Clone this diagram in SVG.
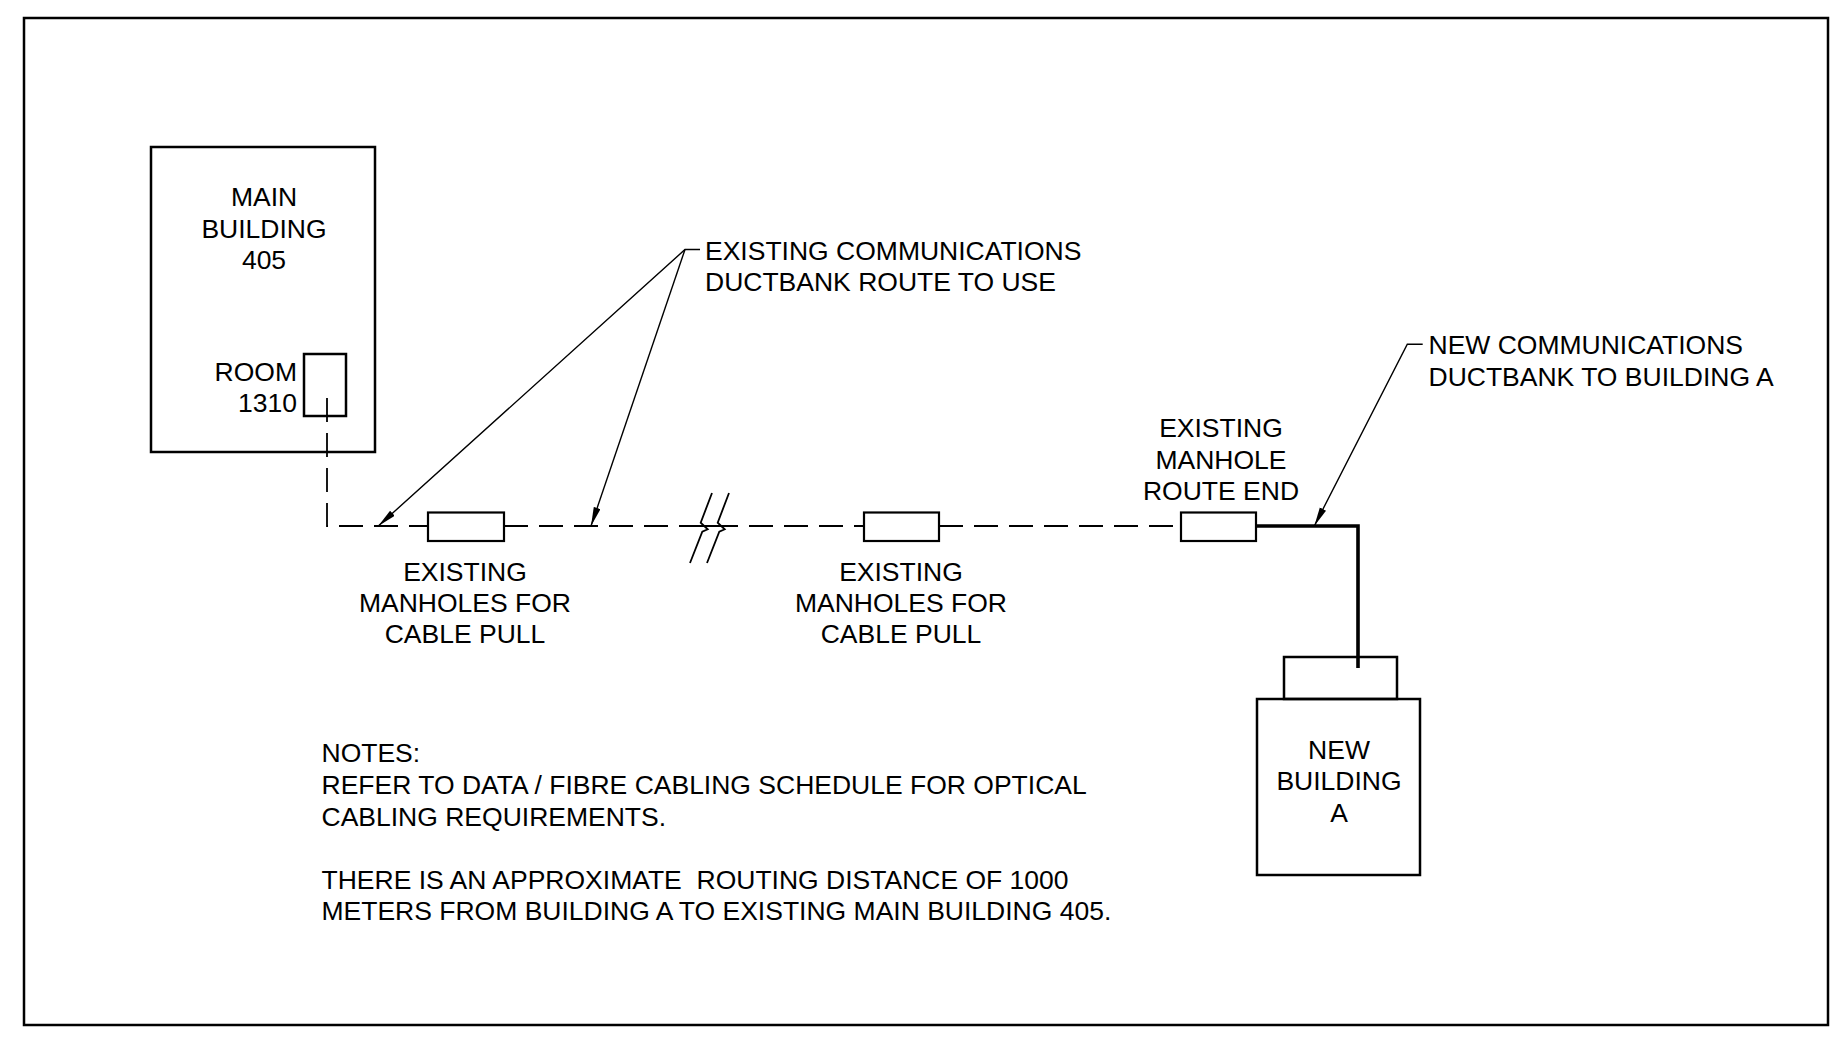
<svg xmlns="http://www.w3.org/2000/svg" width="1833" height="1038" viewBox="0 0 1833 1038">
<style>
text{font-family:"Liberation Sans",Arial,sans-serif;font-size:26.5px;fill:#000}
.c{text-anchor:middle}
.r{text-anchor:end}
.box{fill:none;stroke:#000;stroke-width:2.5}
.mh{fill:#fff;stroke:#000;stroke-width:2.2}
.dash{fill:none;stroke:#000;stroke-width:1.8;stroke-dasharray:24 11}
.solid{fill:none;stroke:#000;stroke-width:1.8}
.lead{fill:none;stroke:#000;stroke-width:1.4}
.thick{fill:none;stroke:#000;stroke-width:3.6}
</style>
<defs>
<marker id="arr" markerUnits="userSpaceOnUse" markerWidth="20" markerHeight="8" refX="19" refY="3.5" orient="auto">
<path d="M0,0 L19,3.5 L0,7 z" fill="#000"/>
</marker>
</defs>
<rect x="0" y="0" width="1833" height="1038" fill="#fff"/>
<rect id="border" x="24" y="18" width="1804" height="1007" fill="none" stroke="#000" stroke-width="2.5"/>

<g id="connectors">
<path class="dash" d="M327,398 V526 H428"/>
<path class="dash" d="M504,526 H864"/>
<path class="dash" d="M939,526 H1181"/>
<path class="solid" d="M686,526 H732"/>
<path class="solid" d="M712,493 L700.7,522.7 L707.7,529.3 L702.3,531.7 L690,563"/>
<path class="solid" d="M729,493 L717.7,522.7 L724.7,529.3 L719.3,531.7 L707,563"/>
<path class="thick" d="M1256,526 H1358 V668"/>
<path class="lead" d="M700,249.5 H685 L378.3,526" marker-end="url(#arr)"/>
<path class="lead" d="M685,249.5 L591,526" marker-end="url(#arr)"/>
<path class="lead" d="M1422.7,344.3 H1407.3 L1314.3,526" marker-end="url(#arr)"/>
</g>

<g id="main-building">
<rect class="box" x="151" y="147" width="224" height="305"/>
<text class="c" x="264" y="206">MAIN</text>
<text class="c" x="264" y="237.5">BUILDING</text>
<text class="c" x="264" y="268.5">405</text>
</g>

<g id="room-1310">
<rect class="box" x="304" y="354" width="42" height="62"/>
<text class="r" x="297" y="381">ROOM</text>
<text class="r" x="297" y="412">1310</text>
</g>

<g id="manhole-1">
<rect class="mh" x="428" y="512.5" width="76" height="28.5"/>
<text class="c" x="465" y="581">EXISTING</text>
<text class="c" x="465" y="612">MANHOLES FOR</text>
<text class="c" x="465" y="643">CABLE PULL</text>
</g>

<g id="manhole-2">
<rect class="mh" x="864" y="512.5" width="75" height="28.5"/>
<text class="c" x="901" y="581">EXISTING</text>
<text class="c" x="901" y="612">MANHOLES FOR</text>
<text class="c" x="901" y="643">CABLE PULL</text>
</g>

<g id="manhole-route-end">
<rect class="mh" x="1181" y="512.5" width="75" height="28.5"/>
<text class="c" x="1221" y="437">EXISTING</text>
<text class="c" x="1221" y="468.5">MANHOLE</text>
<text class="c" x="1221" y="500">ROUTE END</text>
</g>

<g id="new-building">
<rect class="box" x="1284" y="657" width="113" height="42"/>
<rect class="box" x="1257" y="699" width="163" height="176"/>
<text class="c" x="1339" y="759">NEW</text>
<text class="c" x="1339" y="790">BUILDING</text>
<text class="c" x="1339" y="822">A</text>
</g>

<g id="label-existing-ductbank">
<text x="705" y="259.5">EXISTING COMMUNICATIONS</text>
<text x="705" y="290.5">DUCTBANK ROUTE TO USE</text>
</g>

<g id="label-new-ductbank">
<text x="1428.5" y="354">NEW COMMUNICATIONS</text>
<text x="1428.5" y="385.5">DUCTBANK TO BUILDING A</text>
</g>

<g id="notes">
<text x="321.5" y="762">NOTES:</text>
<text x="321.5" y="794">REFER TO DATA / FIBRE CABLING SCHEDULE FOR OPTICAL</text>
<text x="321.5" y="825.5">CABLING REQUIREMENTS.</text>
<text x="321.5" y="888.5" style="white-space:pre">THERE IS AN APPROXIMATE  ROUTING DISTANCE OF 1000</text>
<text x="321.5" y="920">METERS FROM BUILDING A TO EXISTING MAIN BUILDING 405.</text>
</g>
</svg>
